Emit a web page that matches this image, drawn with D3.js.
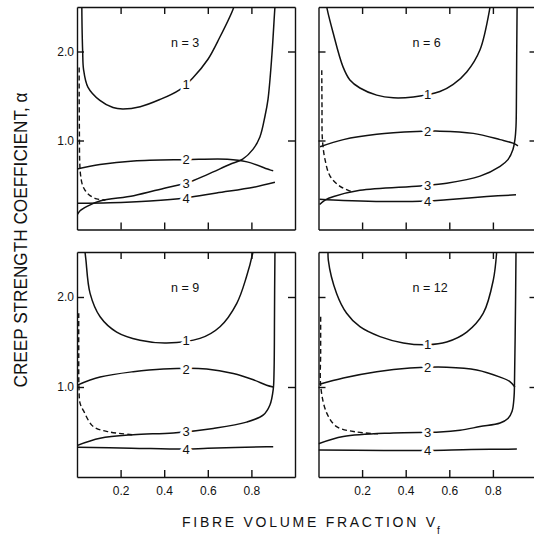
<!DOCTYPE html>
<html>
<head>
<meta charset="utf-8">
<script src="https://cdn.jsdelivr.net/npm/d3@7"></script>
<style>
  body { margin: 0; background: #fff; }
  text { font-family: 'Liberation Sans', Arial, sans-serif; fill: #111; }
</style>
</head>
<body>
<div class="canvas"></div>
<script>
// panel names, curve names and ticks
const panelNames = ['n = 3', 'n = 6', 'n = 9', 'n = 12'];
const curveNames = ['1', '2', '3', '4'];
const xTicks = [0.2, 0.4, 0.6, 0.8];
const yTicks = [1.0, 2.0];

// points are [fibre volume fraction, alpha]
// n = 3
const n3Curve1 = [[0.022, 2.55], [0.023, 2.3], [0.026, 2.0], [0.03, 1.8], [0.05, 1.6], [0.105, 1.45], [0.165, 1.37], [0.21, 1.355], [0.29, 1.38], [0.38, 1.46], [0.47, 1.57], [0.53, 1.7], [0.6, 1.91], [0.655, 2.16], [0.715, 2.47], [0.725, 2.55]];
const n3Curve2 = [[0, 0.68], [0.105, 0.73], [0.26, 0.77], [0.5, 0.785], [0.69, 0.79], [0.78, 0.76], [0.885, 0.67], [0.9, 0.66]];
const n3Curve3 = [[0, 0.16], [0.014, 0.21], [0.046, 0.26], [0.105, 0.32], [0.26, 0.38], [0.41, 0.47], [0.5, 0.52], [0.6, 0.62], [0.7, 0.73], [0.76, 0.79], [0.807, 0.9], [0.839, 1.04], [0.862, 1.27], [0.876, 1.46], [0.894, 1.96], [0.908, 2.5], [0.91, 2.55]];
const n3Curve4 = [[0, 0.295], [0.15, 0.3], [0.335, 0.32], [0.5, 0.355], [0.64, 0.41], [0.81, 0.475], [0.908, 0.53]];
const n3Dashed = [[0.01, 1.82], [0.01, 1.5], [0.011, 1.1], [0.012, 0.8], [0.016, 0.62], [0.025, 0.5], [0.04, 0.43], [0.06, 0.38], [0.09, 0.345], [0.13, 0.33]];

// n = 6
const n6Curve1 = [[0.037, 2.55], [0.038, 2.5], [0.067, 2.21], [0.112, 1.83], [0.144, 1.68], [0.19, 1.59], [0.267, 1.51], [0.343, 1.48], [0.435, 1.49], [0.557, 1.55], [0.618, 1.63], [0.68, 1.77], [0.741, 2.02], [0.787, 2.5], [0.79, 2.55]];
const n6Curve2 = [[0.007, 0.93], [0.114, 1.01], [0.267, 1.07], [0.45, 1.1], [0.557, 1.105], [0.71, 1.08], [0.833, 1.01], [0.892, 0.97], [0.915, 0.94]];
const n6Curve3 = [[0.005, 0.28], [0.03, 0.33], [0.07, 0.37], [0.19, 0.44], [0.466, 0.49], [0.588, 0.52], [0.741, 0.6], [0.833, 0.71], [0.869, 0.785], [0.892, 0.9], [0.901, 1.01], [0.906, 1.16], [0.908, 1.5], [0.911, 2.5], [0.912, 2.55]];
const n6Curve4 = [[0.005, 0.34], [0.114, 0.325], [0.264, 0.315], [0.5, 0.32], [0.588, 0.335], [0.772, 0.37], [0.906, 0.39]];
const n6Dashed = [[0.015, 1.79], [0.016, 1.4], [0.018, 1.01], [0.03, 0.785], [0.053, 0.6], [0.099, 0.485], [0.158, 0.42]];

// n = 9
const n9Curve1 = [[0.036, 2.55], [0.037, 2.5], [0.041, 2.41], [0.06, 2.04], [0.106, 1.78], [0.182, 1.61], [0.289, 1.52], [0.411, 1.49], [0.564, 1.54], [0.656, 1.67], [0.733, 1.93], [0.778, 2.23], [0.807, 2.5], [0.81, 2.55]];
const n9Curve2 = [[0, 1.02], [0.106, 1.11], [0.258, 1.17], [0.396, 1.2], [0.595, 1.2], [0.717, 1.15], [0.809, 1.08], [0.87, 1.02], [0.9, 1.0]];
const n9Curve3 = [[0, 0.35], [0.106, 0.43], [0.258, 0.47], [0.442, 0.49], [0.625, 0.54], [0.778, 0.61], [0.855, 0.69], [0.885, 0.8], [0.9, 0.97], [0.904, 1.19], [0.906, 1.8], [0.908, 2.5], [0.909, 2.55]];
const n9Curve4 = [[0, 0.33], [0.25, 0.32], [0.5, 0.31], [0.6, 0.32], [0.87, 0.335], [0.9, 0.335]];
const n9Dashed = [[0.008, 1.82], [0.008, 1.4], [0.009, 1.0], [0.014, 0.82], [0.029, 0.74], [0.075, 0.56], [0.151, 0.5], [0.257, 0.47]];

// n = 12
const n12Curve1 = [[0.045, 2.55], [0.045, 2.41], [0.083, 2.04], [0.129, 1.82], [0.19, 1.67], [0.282, 1.56], [0.389, 1.49], [0.5, 1.47], [0.588, 1.5], [0.68, 1.61], [0.756, 1.82], [0.802, 2.19], [0.817, 2.49], [0.818, 2.55]];
const n12Curve2 = [[0.004, 1.03], [0.114, 1.1], [0.267, 1.17], [0.42, 1.21], [0.588, 1.22], [0.726, 1.19], [0.833, 1.11], [0.878, 1.06], [0.901, 1.0]];
const n12Curve3 = [[0, 0.37], [0.114, 0.45], [0.343, 0.49], [0.557, 0.5], [0.649, 0.52], [0.741, 0.56], [0.833, 0.6], [0.869, 0.65], [0.888, 0.73], [0.897, 0.89], [0.899, 1.04], [0.904, 1.97], [0.906, 2.5], [0.907, 2.55]];
const n12Curve4 = [[0, 0.3], [0.3, 0.295], [0.5, 0.295], [0.7, 0.305], [0.91, 0.31]];
const n12Dashed = [[0.01, 1.78], [0.01, 1.4], [0.011, 0.99], [0.038, 0.71], [0.083, 0.56], [0.175, 0.5], [0.273, 0.48]];

const panelCurves = [
  [n3Curve1, n3Curve2, n3Curve3, n3Curve4],
  [n6Curve1, n6Curve2, n6Curve3, n6Curve4],
  [n9Curve1, n9Curve2, n9Curve3, n9Curve4],
  [n12Curve1, n12Curve2, n12Curve3, n12Curve4],
];
const panelDashed = [n3Dashed, n6Dashed, n9Dashed, n12Dashed];

// svg container
const svg = d3.select('.canvas')
  .append('svg')
  .attr('width', 534)
  .attr('height', 540);

// where each panel sits, right hand panels run off the page
const panelW = 218;
const boxes = [
  { left: 77, top: 7, bottom: 229.5, showX: false, showY: true },
  { left: 318.5, top: 7, bottom: 229.5, showX: false, showY: false },
  { left: 77, top: 252, bottom: 477, showX: true, showY: true },
  { left: 318.5, top: 252, bottom: 477, showX: true, showY: false },
];

// alpha on a curve at a given fraction, used to put the curve numbers on the lines
const alphaAt = (pts, v) => {
  const j = d3.bisector(d => d[0]).left(pts, v);
  const a = pts[j - 1], b = pts[j];
  return a[1] + (b[1] - a[1]) * (v - a[0]) / (b[0] - a[0]);
};

boxes.forEach((b, i) => {
  const x = d3.scaleLinear().domain([0, 1]).range([b.left, b.left + panelW]);
  const y = d3.scaleLinear().domain([0, 2.5]).range([b.bottom, b.top]);

  const graph = svg.append('g');

  graph.append('clipPath')
    .attr('id', 'clip' + i)
    .append('rect')
    .attr('x', x(0))
    .attr('y', y(2.5))
    .attr('width', panelW)
    .attr('height', y(0) - y(2.5));

  const line = d3.line()
    .x(d => x(d[0]))
    .y(d => y(d[1]))
    .curve(d3.curveCatmullRom.alpha(0.5));

  const lines = graph.append('g').attr('clip-path', `url(#clip${i})`);

  lines.selectAll('path.curve')
    .data(panelCurves[i])
    .enter()
    .append('path')
    .attr('class', 'curve')
    .attr('d', line)
    .attr('fill', 'none')
    .attr('stroke', '#111')
    .attr('stroke-width', 1.5);

  lines.append('path')
    .datum(panelDashed[i])
    .attr('d', line)
    .attr('fill', 'none')
    .attr('stroke', '#111')
    .attr('stroke-width', 1.4)
    .attr('stroke-dasharray', '5,3');

  // curve numbers, the white halo breaks the line like the print
  graph.selectAll('text.num')
    .data(panelCurves[i])
    .enter()
    .append('text')
    .attr('class', 'num')
    .attr('x', x(0.5))
    .attr('y', d => y(alphaAt(d, 0.5)))
    .attr('dy', '0.36em')
    .attr('text-anchor', 'middle')
    .attr('font-size', 13)
    .attr('stroke', '#fff')
    .attr('stroke-width', 6)
    .attr('stroke-linejoin', 'round')
    .attr('paint-order', 'stroke')
    .text((d, k) => curveNames[k]);

  graph.append('text')
    .attr('x', b.left + 94)
    .attr('y', b.top + 40)
    .attr('font-size', 12.5)
    .text(panelNames[i]);

  // frame with inward ticks
  const fmt = d3.format('.1f');
  const bottomAxis = d3.axisBottom(x).tickValues(xTicks).tickSizeInner(-7).tickSizeOuter(0)
    .tickPadding(9.5).tickFormat(b.showX ? fmt : '');
  const topAxis = d3.axisTop(x).tickValues(xTicks).tickSizeInner(-7).tickSizeOuter(0).tickFormat('');
  const leftAxis = d3.axisLeft(y).tickValues(yTicks).tickSizeInner(-7).tickSizeOuter(0)
    .tickPadding(3).tickFormat(b.showY ? fmt : '');
  const rightAxis = d3.axisRight(y).tickValues(yTicks).tickSizeInner(-7).tickSizeOuter(0).tickFormat('');

  graph.append('g').attr('transform', `translate(0, ${y(0)})`).call(bottomAxis);
  graph.append('g').attr('transform', `translate(0, ${y(2.5)})`).call(topAxis);
  graph.append('g').attr('transform', `translate(${x(0)}, 0)`).call(leftAxis);
  graph.append('g').attr('transform', `translate(${x(1)}, 0)`).call(rightAxis);

  graph.selectAll('.domain, .tick line')
    .attr('stroke', '#111')
    .attr('stroke-width', 1.4);
  graph.selectAll('.tick text')
    .attr('font-family', null)
    .attr('font-size', 12)
    .attr('fill', '#111');
  graph.selectAll('g').attr('font-family', null).attr('font-size', null);
});

// axis titles
svg.append('text')
  .attr('transform', 'translate(27, 240) rotate(-90)')
  .attr('x', -147.5)
  .attr('font-size', 18)
  .attr('textLength', 295)
  .attr('lengthAdjust', 'spacingAndGlyphs')
  .text('CREEP STRENGTH COEFFICIENT, α');

svg.append('text')
  .attr('x', 182)
  .attr('y', 527)
  .attr('font-size', 14)
  .attr('textLength', 253)
  .attr('lengthAdjust', 'spacing')
  .text('FIBRE VOLUME FRACTION V');

svg.append('text')
  .attr('x', 437)
  .attr('y', 534)
  .attr('font-size', 10)
  .text('f');
</script>
</body>
</html>
